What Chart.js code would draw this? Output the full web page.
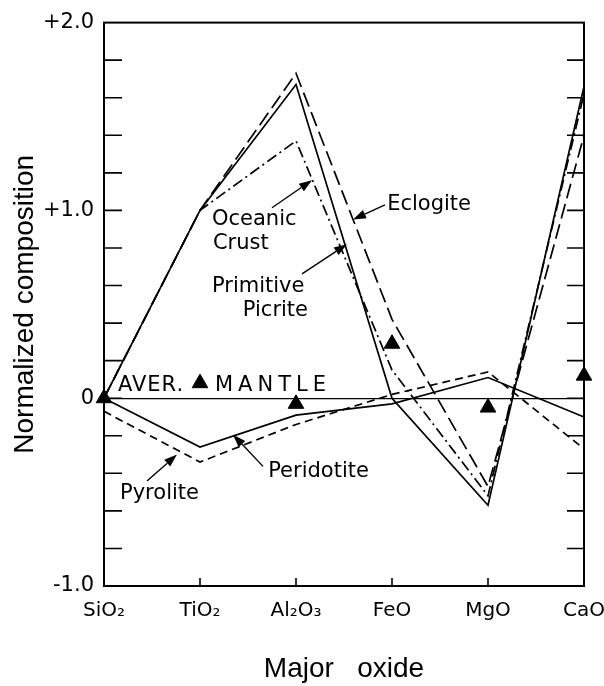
<!DOCTYPE html>
<html>
<head>
<meta charset="utf-8">
<script src="https://cdn.jsdelivr.net/npm/chart.js@4.4.0/dist/chart.umd.min.js"></script>
<style>
  html, body { margin: 0; padding: 0; background: #fff; }
  canvas { display: block; }
</style>
</head>
<body>
<canvas id="oxide-chart" width="604" height="686"></canvas>
<script>
// Categories (x axis)
const oxides = ['SiO₂', 'TiO₂', 'Al₂O₃', 'FeO', 'MgO', 'CaO'];

// Normalized composition per oxide
const peridotite = [0, -0.26, -0.09, -0.03, 0.11, -0.10];
const pyrolite = [-0.07, -0.34, -0.14, 0.02, 0.14, -0.27];
const primitivePicrite = [0, 1.0, 1.67, 0.0, -0.57, 1.66];
const eclogite = [0, 1.0, 1.73, 0.42, -0.47, 1.40];
const oceanicCrust = [0, 1.0, 1.37, 0.15, -0.52, 1.62];
const averMantle = [0, 0.08, -0.03, 0.29, -0.05, 0.12];

// y tick labels shown (only the integers)
const yTickLabels = { '2': '+2.0', '1': '+1.0', '0': '0', '-1': '-1.0' };

const letraFont = '"DejaVu Sans", sans-serif';
const titleFont = '"Liberation Sans", Arial, sans-serif';

// Labels written on the plot, placed in data units (x = category index)
const plotLabels = [
    { text: 'AVER.', x: 0.49, y: 0.07, align: 'center', spacing: 1 },
    { text: 'MANTLE', x: 1.76, y: 0.07, align: 'center', spacing: 5 },
    { text: 'Oceanic', x: 1.125, y: 0.95, align: 'left', spacing: 0 },
    { text: 'Crust', x: 1.135, y: 0.825, align: 'left', spacing: 0 },
    { text: 'Primitive', x: 1.125, y: 0.594, align: 'left', spacing: 0 },
    { text: 'Picrite', x: 2.125, y: 0.468, align: 'right', spacing: 0 },
    { text: 'Eclogite', x: 2.95, y: 1.03, align: 'left', spacing: 0 },
    { text: 'Pyrolite', x: 0.167, y: -0.51, align: 'left', spacing: 0 },
    { text: 'Peridotite', x: 1.71, y: -0.39, align: 'left', spacing: 0 }
];

// Arrows from label to curve (data units)
const arrows = [
    { from: [1.75, 1.014], to: [2.167, 1.161] },
    { from: [2.0625, 0.662], to: [2.531, 0.82] },
    { from: [2.927, 1.03], to: [2.594, 0.951] },
    { from: [0.448, -0.441], to: [0.76, -0.30] },
    { from: [1.656, -0.363], to: [1.344, -0.194] }
];

function serie(label, values, dash) {
    return {
        label: label,
        data: values,
        borderColor: '#000',
        borderWidth: 1.7,
        borderDash: dash,
        pointRadius: 0,
        tension: 0,
        fill: false
    };
}

// Frame, inward ticks, labels and arrows
const decoracion = {
    id: 'decoracion',
    afterDatasetsDraw(chart) {
        const ctx = chart.ctx;
        const area = chart.chartArea;
        const xs = chart.scales.x;
        const ys = chart.scales.y;
        ctx.save();
        ctx.strokeStyle = '#000';
        ctx.lineWidth = 2;
        ctx.setLineDash([]);
        ctx.strokeRect(area.left, area.top, area.right - area.left, area.bottom - area.top);

        // inward ticks on left and right axis
        ctx.lineWidth = 1.6;
        ys.ticks.forEach(t => {
            if (t.value <= ys.min || t.value >= ys.max) return;
            const py = ys.getPixelForValue(t.value);
            ctx.beginPath();
            ctx.moveTo(area.left, py);
            ctx.lineTo(area.left + 18, py);
            ctx.moveTo(area.right, py);
            ctx.lineTo(area.right - 17, py);
            ctx.stroke();
        });
        // small ticks on the bottom axis
        oxides.forEach((o, i) => {
            const px = xs.getPixelForValue(i);
            ctx.beginPath();
            ctx.moveTo(px, area.bottom);
            ctx.lineTo(px, area.bottom - 8);
            ctx.stroke();
        });

        // labels
        ctx.fillStyle = '#000';
        ctx.font = '21px ' + letraFont;
        ctx.textBaseline = 'middle';
        plotLabels.forEach(l => {
            ctx.textAlign = l.align;
            ctx.letterSpacing = l.spacing + 'px';
            ctx.fillText(l.text, xs.getPixelForValue(l.x), ys.getPixelForValue(l.y));
        });
        ctx.letterSpacing = '0px';

        // arrows
        ctx.lineWidth = 1.4;
        arrows.forEach(a => {
            const x1 = xs.getPixelForValue(a.from[0]);
            const y1 = ys.getPixelForValue(a.from[1]);
            const x2 = xs.getPixelForValue(a.to[0]);
            const y2 = ys.getPixelForValue(a.to[1]);
            const ang = Math.atan2(y2 - y1, x2 - x1);
            const len = 13;
            const half = 4.5;
            const bx = x2 - len * Math.cos(ang);
            const by = y2 - len * Math.sin(ang);
            ctx.beginPath();
            ctx.moveTo(x1, y1);
            ctx.lineTo(bx, by);
            ctx.stroke();
            ctx.beginPath();
            ctx.moveTo(x2, y2);
            ctx.lineTo(bx + half * Math.sin(ang), by - half * Math.cos(ang));
            ctx.lineTo(bx - half * Math.sin(ang), by + half * Math.cos(ang));
            ctx.closePath();
            ctx.fill();
        });
        ctx.restore();
    }
};

const chart = new Chart(document.getElementById('oxide-chart'), {
    type: 'line',
    data: {
        labels: oxides,
        datasets: [
            serie('Peridotite', peridotite, []),
            serie('Pyrolite', pyrolite, [8, 5]),
            serie('Primitive Picrite', primitivePicrite, []),
            serie('Eclogite', eclogite, [15, 6]),
            serie('Oceanic Crust', oceanicCrust, [11, 4, 2, 4]),
            {
                label: 'Aver. mantle',
                data: averMantle,
                showLine: false,
                pointStyle: 'triangle',
                pointRadius: 9,
                pointBackgroundColor: '#000',
                pointBorderColor: '#000',
                pointBorderWidth: 1
            }
        ]
    },
    options: {
        responsive: false,
        animation: false,
        layout: { padding: { top: 15, right: 20, left: 0, bottom: 0 } },
        plugins: {
            legend: { display: false },
            tooltip: { enabled: false }
        },
        scales: {
            x: {
                type: 'category',
                offset: false,
                grid: { display: false, drawTicks: false },
                border: { display: false },
                ticks: {
                    color: '#000',
                    font: { family: letraFont, size: 20 },
                    padding: 13,
                    maxRotation: 0
                },
                title: {
                    display: true,
                    text: 'Major   oxide',
                    color: '#000',
                    font: { family: titleFont, size: 28 },
                    padding: { top: 0, bottom: 0 }
                },
                afterFit(scale) {
                    scale.height = 100;
                    scale.paddingLeft = 0;
                    scale.paddingRight = 0;
                }
            },
            y: {
                min: -1,
                max: 2,
                grid: {
                    drawTicks: false,
                    color: c => (c.tick && Math.abs(c.tick.value) < 1e-9) ? '#000' : 'rgba(0,0,0,0)',
                    lineWidth: 1.2
                },
                border: { display: false },
                ticks: {
                    stepSize: 0.2,
                    autoSkip: false,
                    color: '#000',
                    font: { family: letraFont, size: 21 },
                    padding: 10,
                    callback: function (v) {
                        const k = String(Math.round(v * 10) / 10);
                        return yTickLabels[k] !== undefined ? yTickLabels[k] : '';
                    }
                },
                title: {
                    display: true,
                    text: 'Normalized composition',
                    color: '#000',
                    font: { family: titleFont, size: 28 },
                    padding: { top: 8, bottom: 0 }
                },
                afterFit(scale) { scale.width = 104; }
            }
        }
    },
    plugins: [decoracion]
});
</script>
</body>
</html>
